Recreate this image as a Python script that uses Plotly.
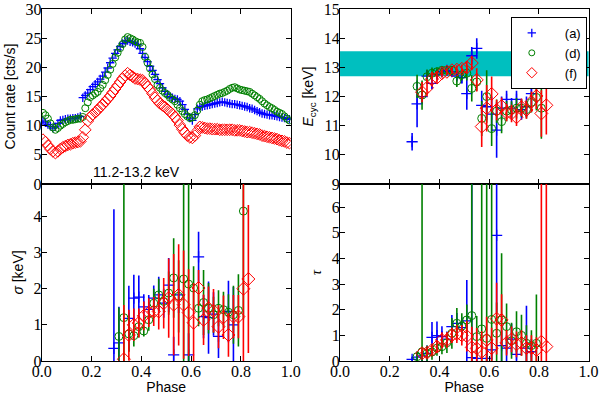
import numpy as np
import plotly.graph_objects as go

# ---- light curves (top-left), 100 phase bins ----
rate_a = [10.8, 10.5, 10.2, 9.9, 9.6, 9.8, 10.4, 10.9, 11.0, 11.1,
          11.2, 11.2, 11.3, 11.3, 11.4, 11.6, 14.8, 15.2, 15.6, 16.2,
          16.7, 17.1, 17.5, 18.0, 18.5, 19.2, 19.9, 20.8, 21.6, 22.4,
          23.0, 23.6, 24.1, 24.5, 24.6, 24.4, 24.3, 24.1, 23.9, 23.2,
          22.4, 21.7, 21.0, 20.2, 19.5, 18.8, 17.9, 17.2, 16.5, 15.9,
          15.4, 15.0, 14.8, 14.6, 14.5, 14.2, 13.6, 12.8, 12.0, 11.3,
          10.9, 11.9, 12.9, 13.2, 13.3, 13.4, 13.5, 13.6, 13.7, 13.8,
          13.9, 14.0, 14.1, 14.0, 13.9, 13.8, 13.7, 13.7, 13.6, 13.5,
          13.4, 13.3, 13.2, 13.0, 12.9, 12.7, 12.5, 12.3, 12.1, 12.0,
          11.9, 11.8, 11.8, 11.7, 11.6, 11.5, 11.4, 11.3, 11.2, 11.1]
rate_d = [12.2, 11.8, 11.2, 10.4, 9.7, 9.3, 9.6, 10.0, 10.3, 10.6,
          10.8, 11.0, 11.0, 11.1, 11.2, 11.2, 11.5, 13.0, 14.0, 14.9,
          15.2, 15.5, 15.8, 16.4, 17.0, 17.8, 18.7, 19.6, 20.6, 21.7,
          22.5, 23.3, 24.0, 24.8, 25.2, 25.0, 24.8, 24.5, 24.3, 24.2,
          23.5, 21.8, 20.8, 19.8, 18.8, 18.0, 17.0, 16.5, 16.0, 15.6,
          15.3, 14.8, 14.5, 14.2, 13.6, 13.0, 12.5, 12.0, 11.6, 11.3,
          11.4, 11.8, 12.6, 13.6, 14.2, 14.4, 14.5, 14.7, 14.9, 15.1,
          15.3, 15.5, 15.6, 15.8, 16.0, 16.3, 16.5, 16.6, 16.4, 16.2,
          16.1, 16.0, 15.9, 15.8, 15.5, 15.2, 14.9, 14.6, 14.2, 13.8,
          13.5, 13.2, 13.0, 12.7, 12.4, 12.2, 12.0, 11.6, 11.2, 10.9]
rate_f = [7.6, 7.2, 6.6, 6.0, 5.6, 5.3, 5.6, 6.0, 6.3, 6.5,
          6.7, 6.8, 7.0, 7.1, 7.2, 7.3, 8.0, 9.3, 10.8, 11.5,
          11.9, 12.3, 12.7, 13.2, 13.6, 14.1, 14.6, 15.1, 15.7, 16.3,
          16.9, 17.5, 18.1, 18.6, 19.0, 18.7, 18.4, 18.1, 18.0, 17.9,
          17.8, 17.3, 16.7, 16.2, 15.5, 14.8, 14.3, 13.8, 13.5, 13.2,
          12.8, 12.4, 12.0, 11.5, 10.9, 10.1, 9.4, 8.8, 8.3, 8.0,
          7.9, 8.3, 9.1, 9.8, 9.7, 9.6, 9.5, 9.5, 9.4, 9.4,
          9.4, 9.3, 9.3, 9.3, 9.3, 9.3, 9.3, 9.2, 9.2, 9.2,
          9.1, 9.0, 8.9, 8.9, 8.8, 8.7, 8.6, 8.5, 8.3, 8.2,
          8.1, 8.0, 7.9, 7.8, 7.7, 7.5, 7.4, 7.3, 7.1, 7.0]
phase_lc = np.arange(100) / 100 + 0.005

# ---- spectral parameters, phase bins 0.29 ... 0.83 ----
phase_sp = [0.29, 0.31, 0.33, 0.35, 0.37, 0.39, 0.41, 0.43, 0.45, 0.47,
            0.49, 0.51, 0.53, 0.55, 0.57, 0.59, 0.61, 0.63, 0.65, 0.67,
            0.69, 0.71, 0.73, 0.75, 0.77, 0.79, 0.81, 0.83]

ecyc_a = [10.45, 11.75, 12.0, 12.7, 12.45, 12.75, 12.85, 12.9, 12.85, 12.7,
          12.65, 12.1, 13.4, 13.65, 11.7, 11.65, 11.4, 10.85, 11.6, 11.9,
          11.6, 11.9, 11.55, 11.65, 12.1, None, None, None]
ecyc_a_err = [0.3, 0.8, 0.25, 0.2, 0.2, 0.15, 0.1, 0.1, 0.1, 0.15,
              0.2, 0.55, 0.3, 0.35, 0.5, 0.45, 0.6, 0.95, 0.4, 0.3,
              0.35, 0.3, 0.35, 0.35, 0.4, 0, 0, 0]
ecyc_d = [None, 12.35, 12.05, 12.68, 12.8, 12.85, 12.9, 12.9, 12.9, 12.53,
          12.75, 12.8, 12.28, 12.5, 11.25, 12.0, 10.9, 11.5, 11.14, 11.5,
          11.54, 11.6, 11.6, 11.55, 11.8, 11.97, 11.6, None]
ecyc_d_err = [0, 0.4, 0.5, 0.25, 0.2, 0.15, 0.1, 0.1, 0.15, 0.2,
              0.2, 0.25, 0.45, 0.3, 0.6, 0.9, 0.6, 0.4, 0.4, 0.35,
              0.3, 0.35, 0.3, 0.3, 0.35, 0.45, 1.05, 0]
ecyc_f = [None, None, 12.15, 12.3, 12.6, 12.65, 12.8, 12.85, 12.9, 12.92,
          12.95, 13.0, 13.15, 12.57, 10.97, 11.6, 12.09, 11.54, 11.67, 11.45,
          11.42, 11.29, 11.63, 11.54, 11.82, 12.02, 11.42, 11.7]
ecyc_f_err = [0, 0, 0.35, 0.3, 0.25, 0.2, 0.15, 0.12, 0.12, 0.15,
              0.15, 0.2, 0.25, 0.4, 0.7, 0.8, 0.6, 0.35, 0.3, 0.3,
              0.3, 0.3, 0.3, 0.3, 0.35, 0.45, 0.8, 1.0]

sigma_a = [0.35, 0.5, None, 1.18, 1.74, 1.77, 1.5, 1.43, 1.74, 1.83,
           1.6, 2.1, 0.17, 1.83, None, 0.17, None, 2.88, 1.23, 1.2,
           1.3, 0.68, None, 1.37, 1.0, None, None, None]
sigma_a_err = [3.85, 1.0, 0, 0.9, 0.65, 0.6, 0.35, 0.4, 0.35, 0.5,
               0.4, 0.75, 0.5, 0.5, 0, 0.6, 0, 0.7, 0.6, 1.0,
               0.6, 0.6, 0, 0.85, 1.05, 0, 0, 0]
sigma_d = [None, 0.68, 1.2, 0.75, 0.7, 0.95, 0.83, 1.14, 1.6, 1.83,
           1.65, 1.88, 2.3, 1.79, 2.27, 2.13, 2.02, 1.46, 1.62, 1.46,
           1.28, 1.46, 1.42, 1.35, 1.28, 1.4, 4.15, None]
sigma_d_err = [0, 0.8, 4.5, 0.5, 0.3, 0.3, 0.15, 0.3, 0.4, 0.45,
               0.3, 0.6, 1.1, 1.0, 3.5, 3.5, 0.6, 0.5, 0.9, 0.7,
               0.5, 0.5, 0.5, 0.5, 0.8, 1.0, 3.0, 0]
sigma_f = [None, None, 0.05, 0.72, 1.0, 1.05, 1.25, 1.34, 1.37, 1.37,
           1.6, 1.74, 1.56, 1.83, 1.56, 1.34, 1.06, 2.02, 1.14, 1.46,
           1.39, 0.95, 1.21, 0.72, 1.23, 1.23, 2.0, 2.27]
sigma_f_err = [0, 0, 1.5, 0.7, 0.45, 0.4, 0.4, 0.4, 0.4, 0.5,
               0.7, 1.1, 1.4, 1.4, 1.5, 1.2, 1.1, 0.5, 0.7, 0.6,
               0.6, 0.6, 0.6, 0.6, 0.6, 0.6, 3.5, 2.05]

tau_a = [0.06, 0.15, 0.2, 0.3, 0.92, 0.99, 0.95, 0.85, 1.34, 1.47,
         1.3, 1.56, 0.13, 0.1, None, 0.1, 0.43, 4.9, 0.6, 0.5,
         0.85, 0.26, None, 0.5, 0.36, None, None, None]
tau_a_err = [0.1, 0.2, 0.2, 0.3, 0.6, 0.55, 0.4, 0.3, 0.45, 0.4,
             0.4, 1.6, 7.0, 0.4, 0, 0.4, 0.4, 3.0, 0.6, 0.5,
             0.6, 0.5, 0, 1.65, 0.5, 0, 0, 0]
tau_d = [None, 0.17, 0.36, 0.3, 0.35, 0.5, 0.56, 0.71, 1.08, 1.47,
         1.36, 1.6, 1.77, 0.95, 1.25, 0.88, 1.62, 1.08, 1.6, 1.34,
         0.79, 1.14, 1.0, 0.69, 0.6, 0.69, None, None]
tau_d_err = [0, 0.2, 7.0, 0.3, 0.3, 0.3, 0.3, 0.4, 0.6, 0.6,
             0.5, 0.6, 7.0, 0.8, 7.0, 7.0, 7.0, 1.2, 2.6, 0.9,
             0.7, 0.8, 0.8, 0.7, 0.6, 1.9, 0, 0]
tau_f = [None, None, 0.3, 0.32, 0.43, 0.56, 0.82, 0.82, 1.0, 1.05,
         1.0, 0.97, 0.53, 0.49, 0.36, 0.82, 0.5, 1.65, 1.6, 0.71,
         0.84, 0.65, 0.7, 0.5, 0.5, 0.43, 0.75, 0.56]
tau_f_err = [0, 0, 0.2, 0.2, 0.2, 0.25, 0.3, 0.3, 0.3, 0.35,
             0.4, 0.6, 0.8, 0.8, 0.8, 0.9, 0.8, 1.4, 1.0, 0.5,
             0.5, 0.5, 0.5, 0.5, 0.5, 0.5, 7.0, 7.0]

cyc_band = [12.7, 13.55]
labels = ["(a)", "(d)", "(f)"]

BLUE, GREEN, RED, CYAN = "#0000ff", "#008000", "#ff0000", "#00bfbf"
SERIF = "Liberation Serif, DejaVu Serif, serif"
SANS = "Liberation Sans, Arial, sans-serif"


def marker(i, size):
    if i == 0:
        return dict(symbol="cross-thin", size=size,
                    line=dict(color=BLUE, width=1.3), color=BLUE)
    if i == 1:
        return dict(symbol="circle-open", size=size, color=GREEN, line=dict(width=1))
    return dict(symbol="diamond-open", size=size + 2, color=RED, line=dict(width=1))


colors = [BLUE, GREEN, RED]
fig = go.Figure()

# light curves
for i, r in enumerate([rate_a, rate_d, rate_f]):
    fig.add_trace(go.Scatter(x=phase_lc, y=r, mode="markers", marker=marker(i, 7 if i else 6),
                             xaxis="x", yaxis="y", showlegend=False))

panels = [("x2", "y2", [(ecyc_a, ecyc_a_err), (ecyc_d, ecyc_d_err), (ecyc_f, ecyc_f_err)]),
          ("x3", "y3", [(sigma_a, sigma_a_err), (sigma_d, sigma_d_err), (sigma_f, sigma_f_err)]),
          ("x4", "y4", [(tau_a, tau_a_err), (tau_d, tau_d_err), (tau_f, tau_f_err)])]

for xa, ya, series in panels:
    for i, (v, e) in enumerate(series):
        fig.add_trace(go.Scatter(
            x=phase_sp, y=v, mode="markers", marker=marker(i, 8),
            error_y=dict(type="data", array=e, color=colors[i], thickness=1.6, width=0),
            xaxis=xa, yaxis=ya, showlegend=False))

# legend entries (small symbols, as in the original key)
for i, lab in enumerate(labels):
    fig.add_trace(go.Scatter(x=[None], y=[None], mode="markers", marker=marker(i, 6),
                             xaxis="x2", yaxis="y2", name="\u2003" + lab, legendgroup=lab))

fig.add_shape(type="rect", xref="x2 domain", yref="y2", x0=0, x1=1,
              y0=cyc_band[0], y1=cyc_band[1], fillcolor=CYAN, line_width=0, layer="below")

fig.add_annotation(x=0.38, y=2.0, xref="x", yref="y", text="11.2-13.2 keV", showarrow=False,
                   font=dict(family=SANS, size=14, color="black"))

xl = [0.0695, 0.4845]
xr = [0.5667, 0.981]
yt = [0.5342, 0.977]
yb = [0.0861, 0.5342]

tfont = dict(family=SANS, size=14, color="black")
ax_common = dict(showline=True, linecolor="black", linewidth=1, mirror="ticks", automargin=False,
                 ticks="inside", ticklen=5, tickcolor="black", showgrid=False, zeroline=False,
                 ticklabelstandoff=-4,
                 tickfont=dict(family=SERIF, size=16, color="black"))
xcommon = dict(ax_common, range=[0, 1], tickvals=[0, 0.2, 0.4, 0.6, 0.8, 1.0], tickformat=".1f")

fig.update_layout(
    width=600, height=395, margin=dict(l=0, r=0, t=0, b=0),
    plot_bgcolor="white", paper_bgcolor="white",
    xaxis=dict(xcommon, domain=xl, anchor="y", showticklabels=False),
    yaxis=dict(ax_common, domain=yt, anchor="x", range=[0, 30], dtick=5,
               title=dict(text="Count rate [cts/s]", font=tfont, standoff=6)),
    xaxis2=dict(xcommon, domain=xr, anchor="y2", showticklabels=False),
    yaxis2=dict(ax_common, domain=yt, anchor="x2", range=[9, 15], dtick=1,
                title=dict(text="<i>E</i><sub>cyc</sub> [keV]", font=tfont, standoff=6)),
    xaxis3=dict(xcommon, domain=xl, anchor="y3",
                title=dict(text="Phase", font=tfont, standoff=4)),
    yaxis3=dict(ax_common, domain=yb, anchor="x3", range=[0, 4.9], tickvals=[0, 1, 2, 3, 4],
                title=dict(text="<i>σ</i> [keV]", font=tfont, standoff=6)),
    xaxis4=dict(xcommon, domain=xr, anchor="y4",
                title=dict(text="Phase", font=tfont, standoff=4)),
    yaxis4=dict(ax_common, domain=yb, anchor="x4", range=[0, 6.9], tickvals=[0, 1, 2, 3, 4, 5, 6],
                title=dict(text="<i>τ</i>", font=dict(tfont, family=SERIF), standoff=6)),
    legend=dict(x=0.978, y=0.957, xanchor="right", yanchor="top", bgcolor="white",
                bordercolor="black", borderwidth=1, font=dict(family=SANS, size=13, color="black"),
                itemwidth=30, tracegroupgap=0),
)

# the page body has a default 8px margin; drop it so the figure fills the window
fig.write_html("out.html", config={"displayModeBar": False},
               post_script="document.body.style.margin='0';")
